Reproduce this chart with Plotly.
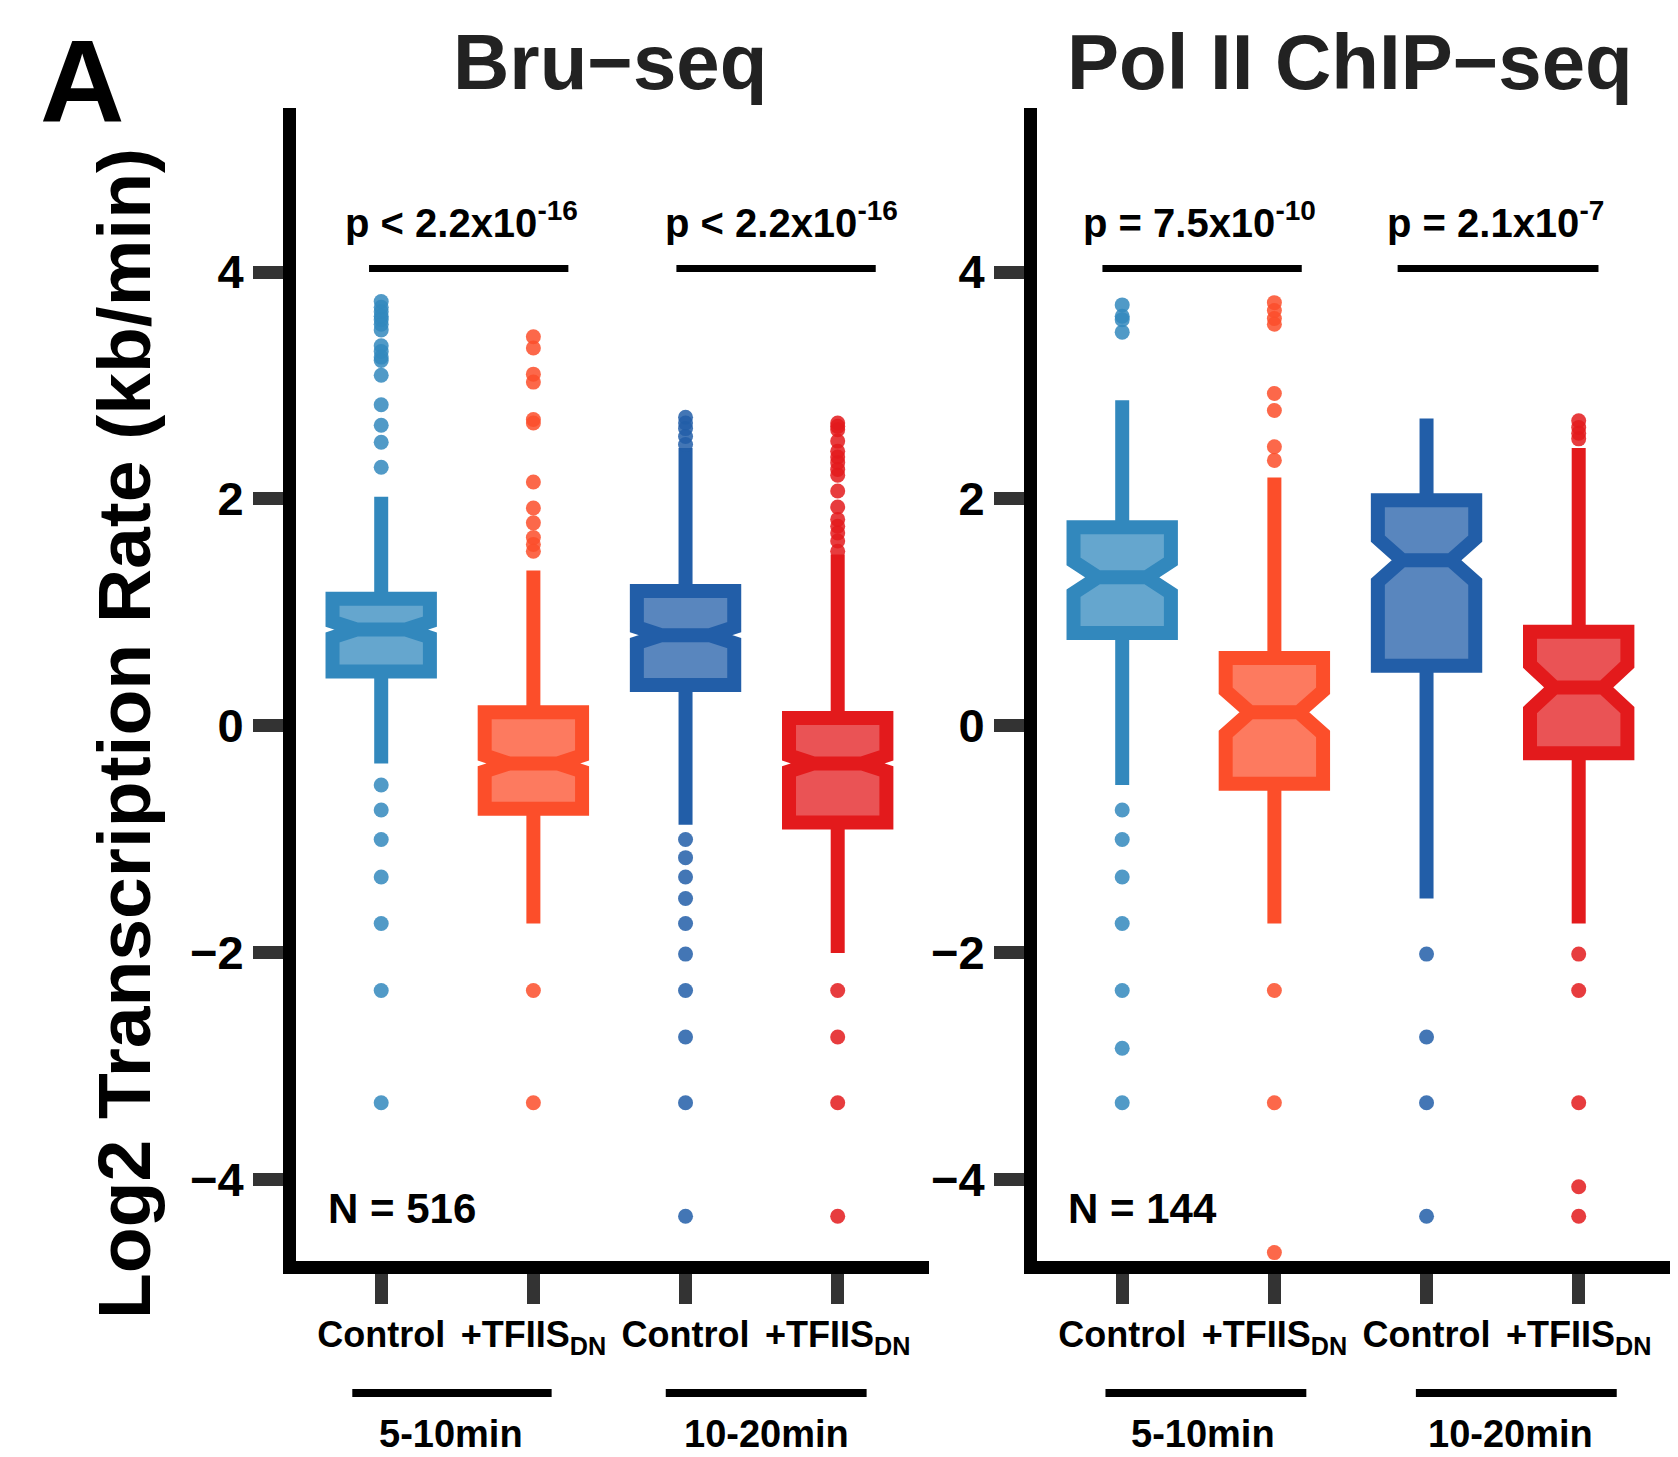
import plotly.graph_objects as go

W, H = 1678, 1457

# ---------------- data ----------------
categories = [1, 2, 3, 4]
cat_labels = ["Control", "+TFIIS<sub>DN</sub>", "Control", "+TFIIS<sub>DN</sub>"]
y_ticks = [-4, -2, 0, 2, 4]
panel_titles = ["Bru\u2212seq", "Pol II ChIP\u2212seq"]
group_labels = ["5-10min", "10-20min"]
n_labels = ["N = 516", "N = 144"]
p_labels_bru = ["p &lt; 2.2x10<sup>-16</sup>", "p &lt; 2.2x10<sup>-16</sup>"]
p_labels_pol = ["p = 7.5x10<sup>-10</sup>", "p = 2.1x10<sup>-7</sup>"]

line_colors = ["#3288BD", "#FC4E2A", "#225EA8", "#E31A1C"]
fill_colors = ["rgba(50,136,189,0.75)", "rgba(252,78,42,0.75)",
               "rgba(34,94,168,0.75)", "rgba(227,26,28,0.75)"]

# Bru-seq boxes
bru_q1 = [0.48, -0.73, 0.36, -0.85]
bru_median = [0.85, -0.33, 0.80, -0.33]
bru_q3 = [1.12, 0.12, 1.19, 0.07]
bru_lower = [-0.33, -1.74, -0.87, -2.00]
bru_upper = [2.02, 1.37, 2.45, 1.51]
bru_notch = [0.07, 0.07, 0.07, 0.07]
bru_outliers = [
    [3.74, 3.69, 3.65, 3.61, 3.58, 3.54, 3.49, 3.35, 3.30, 3.25, 3.22, 3.09, 2.83,
     2.65, 2.50, 2.28, -0.52, -0.74, -1.00, -1.33, -1.74, -2.33, -3.32],
    [3.43, 3.33, 3.10, 3.03, 2.70, 2.67, 2.15, 1.92, 1.79, 1.66, 1.60, 1.54,
     -2.33, -3.32],
    [2.72, 2.67, 2.62, 2.55, 2.48, -1.00, -1.16, -1.33, -1.52, -1.74, -2.01,
     -2.33, -2.74, -3.32, -4.32],
    [2.67, 2.64, 2.61, 2.51, 2.42, 2.37, 2.32, 2.26, 2.21, 2.07, 1.93, 1.82,
     1.76, 1.70, 1.63, 1.54, -2.33, -2.74, -3.32, -4.32],
]

# Pol II ChIP-seq boxes
pol_q1 = [0.82, -0.51, 0.53, -0.24]
pol_median = [1.31, 0.12, 1.46, 0.34]
pol_q3 = [1.75, 0.60, 1.99, 0.83]
pol_lower = [-0.52, -1.74, -1.52, -1.74]
pol_upper = [2.87, 2.19, 2.71, 2.45]
pol_notch = [0.14, 0.19, 0.19, 0.20]
pol_outliers = [
    [3.71, 3.61, 3.58, 3.47, -0.74, -1.00, -1.33, -1.74, -2.33, -2.84, -3.32],
    [3.73, 3.66, 3.59, 3.54, 2.93, 2.78, 2.46, 2.34, -2.33, -3.32, -4.64],
    [-2.01, -2.74, -3.32, -4.32],
    [2.69, 2.63, 2.58, 2.53, -2.01, -2.33, -3.32, -4.06, -4.32],
]

# annotation positions (category units)
p_text_x = [[1.53, 3.63], [1.51, 3.45]]
p_line_x = [[(0.92, 2.23), (2.94, 4.25)], [(0.87, 2.18), (2.81, 4.13)]]
group_line_x = [[(0.81, 2.12), (2.87, 4.19)], [(0.89, 2.21), (2.93, 4.25)]]
group_text_x = [[1.46, 3.53], [1.53, 3.55]]
n_text_x = [0.64, 0.63]

FONT = "Liberation Sans, Arial, Helvetica, sans-serif"


def px(x):
    return x / W


def py(y):
    return 1 - y / H


fig = go.Figure()

panels = [
    (bru_q1, bru_median, bru_q3, bru_lower, bru_upper, bru_notch, bru_outliers, "x", "y"),
    (pol_q1, pol_median, pol_q3, pol_lower, pol_upper, pol_notch, pol_outliers, "x2", "y2"),
]

for (q1, med, q3, lo, up, notch, outl, xa, ya) in panels:
    for i, c in enumerate(categories):
        fig.add_trace(go.Box(
            x=[c], q1=[q1[i]], median=[med[i]], q3=[q3[i]],
            lowerfence=[lo[i]], upperfence=[up[i]], notchspan=[notch[i]],
            notched=True, notchwidth=0.25, boxpoints=False,
            width=0.64, whiskerwidth=0,
            line=dict(color=line_colors[i], width=14),
            fillcolor=fill_colors[i],
            xaxis=xa, yaxis=ya, showlegend=False, hoverinfo="skip",
        ))
        fig.add_trace(go.Scatter(
            x=[c] * len(outl[i]), y=outl[i], mode="markers",
            marker=dict(color=line_colors[i], size=15, opacity=0.85,
                        line=dict(width=0)),
            xaxis=xa, yaxis=ya, showlegend=False, hoverinfo="skip",
        ))

x_range = [0.44, 4.6]
y_range = [-4.714, 5.445]
ydom = [py(1261), py(108)]

axis_common = dict(
    showline=True, linewidth=13, linecolor="black",
    ticks="outside", ticklen=30, tickwidth=13, tickcolor="#333333",
    showgrid=False, zeroline=False, fixedrange=True,
)

xtickfont = dict(size=36, family=FONT, weight="bold", color="black")
ytickfont = dict(size=47, family=FONT, weight="bold", color="black")

fig.update_layout(
    width=W, height=H,
    margin=dict(l=0, r=0, t=0, b=0),
    paper_bgcolor="white", plot_bgcolor="white",
    boxmode="overlay",
    font=dict(family=FONT, color="black"),
    xaxis=dict(domain=[px(296), px(929)], range=x_range, anchor="y",
               tickvals=categories, ticktext=cat_labels, tickfont=xtickfont,
               **axis_common),
    yaxis=dict(domain=ydom, range=y_range, anchor="x",
               tickvals=y_ticks, tickfont=ytickfont, **axis_common),
    xaxis2=dict(domain=[px(1037), px(1670)], range=x_range, anchor="y2",
                tickvals=categories, ticktext=cat_labels, tickfont=xtickfont,
                **axis_common),
    yaxis2=dict(domain=ydom, range=y_range, anchor="x2",
                tickvals=y_ticks, tickfont=ytickfont, **axis_common),
)

ann = []
shapes = []

# panel letter
ann.append(dict(text="<b>A</b>", x=px(82), y=py(81), xref="paper", yref="paper",
                showarrow=False, xanchor="center", yanchor="middle",
                font=dict(size=117, family=FONT, color="black")))
# titles
title_x = [610, 1350]
for t, tx in zip(panel_titles, title_x):
    ann.append(dict(text="<b>" + t + "</b>", x=px(tx), y=py(62), xref="paper", yref="paper",
                    showarrow=False, xanchor="center", yanchor="middle",
                    font=dict(size=78, family=FONT, color="#222222")))
# y-axis title
ann.append(dict(text="<b>Log2 Transcription Rate (kb/min)</b>", x=px(124), y=py(734),
                xref="paper", yref="paper", textangle=-90, showarrow=False,
                xanchor="center", yanchor="middle",
                font=dict(size=75, family=FONT, color="black")))

p_labels = [p_labels_bru, p_labels_pol]
for k, (xa, ya) in enumerate([("x", "y"), ("x2", "y2")]):
    for j in range(2):
        ann.append(dict(text="<b>" + p_labels[k][j] + "</b>", x=p_text_x[k][j], y=4.46,
                        xref=xa, yref=ya, showarrow=False, xanchor="center",
                        yanchor="middle", font=dict(size=40, family=FONT, color="black")))
        x0, x1 = p_line_x[k][j]
        shapes.append(dict(type="line", xref=xa, yref=ya, x0=x0, x1=x1, y0=4.03, y1=4.03,
                           line=dict(color="black", width=7)))
        g0, g1 = group_line_x[k][j]
        shapes.append(dict(type="line", xref=xa, yref="paper", x0=g0, x1=g1,
                           y0=py(1393), y1=py(1393), line=dict(color="black", width=8)))
        ann.append(dict(text="<b>" + group_labels[j] + "</b>", x=group_text_x[k][j],
                        y=py(1434), xref=xa, yref="paper", showarrow=False,
                        xanchor="center", yanchor="middle",
                        font=dict(size=38, family=FONT, color="black")))
    ann.append(dict(text="<b>" + n_labels[k] + "</b>", x=n_text_x[k], y=-4.25,
                    xref=xa, yref=ya, showarrow=False, xanchor="left", yanchor="middle",
                    font=dict(size=42, family=FONT, color="black")))

fig.update_layout(annotations=ann, shapes=shapes)

fig.write_html("out.html")
